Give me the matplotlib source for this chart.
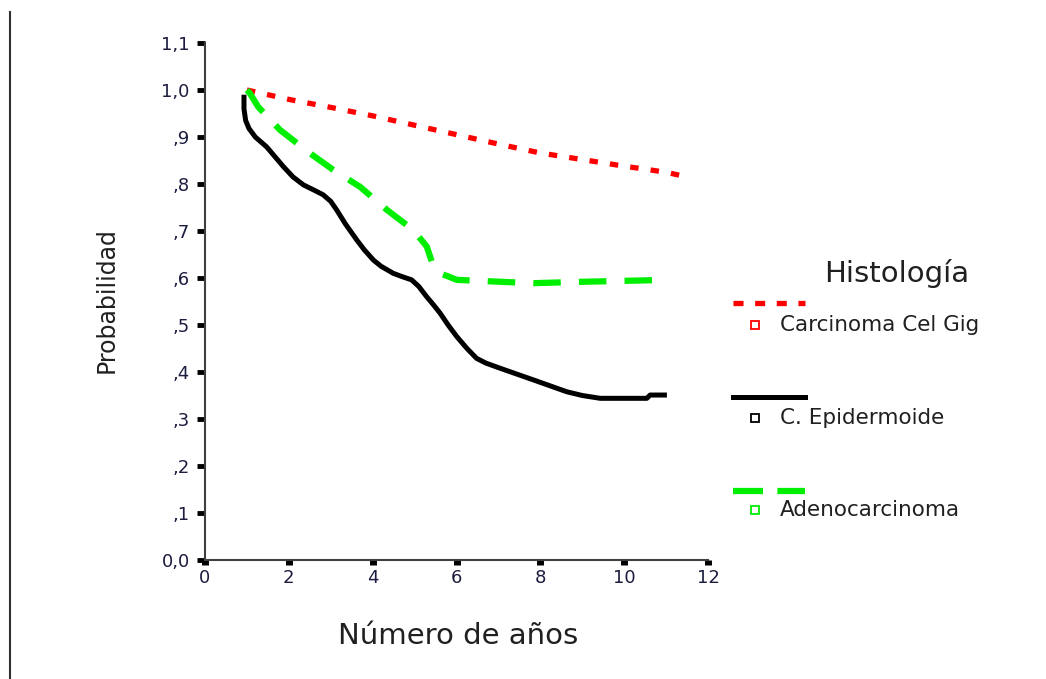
import numpy as np
import matplotlib
matplotlib.use('Agg')
import matplotlib.pyplot as plt
from matplotlib.lines import Line2D

# ---- data ----
years_cg = [1.0, 2.0, 3.0, 4.0, 5.0, 6.0, 7.0, 8.0, 9.0, 10.0, 11.0, 11.5]
surv_cg = [1.0, 0.98, 0.963, 0.945, 0.925, 0.905, 0.885, 0.866, 0.852, 0.838, 0.825, 0.815]

years_ep = [0.93, 0.93, 0.97, 1.05, 1.2, 1.47, 1.87, 2.1, 2.35, 2.6, 2.82, 3.0, 3.14, 3.35,
            3.62, 3.8, 4.02, 4.2, 4.49, 4.7, 4.93, 5.1, 5.29, 5.45, 5.61, 5.8, 6.01, 6.25,
            6.48, 6.7, 7.04, 7.84, 8.63, 9.0, 9.43, 10.54, 10.62, 11.02]
surv_ep = [0.99, 0.96, 0.935, 0.918, 0.90, 0.879, 0.837, 0.815, 0.798, 0.787, 0.777, 0.763,
           0.745, 0.715, 0.681, 0.660, 0.638, 0.625, 0.610, 0.603, 0.596, 0.582, 0.560, 0.543,
           0.525, 0.500, 0.475, 0.450, 0.429, 0.419, 0.408, 0.383, 0.358, 0.350, 0.344, 0.344,
           0.351, 0.351]

years_ad = [1.0, 1.07, 1.27, 1.79, 2.51, 3.06, 3.70, 4.34, 4.97, 5.29, 5.41, 5.61,
            6.01, 7.04, 7.84, 9.03, 11.02]
surv_ad = [1.0, 0.993, 0.964, 0.915, 0.865, 0.830, 0.794, 0.745, 0.702, 0.667, 0.635, 0.610,
           0.596, 0.592, 0.589, 0.592, 0.596]

ytick_vals = [0.0, 0.1, 0.2, 0.3, 0.4, 0.5, 0.6, 0.7, 0.8, 0.9, 1.0, 1.1]
ytick_labels = ['0,0', ',1', ',2', ',3', ',4', ',5', ',6', ',7', ',8', ',9', '1,0', '1,1']
xtick_vals = [0, 2, 4, 6, 8, 10, 12]

series_names = ['Carcinoma Cel Gig', 'C. Epidermoide', 'Adenocarcinoma']
series_colors = ['#ff0000', '#000000', '#00ee00']

W, H = 1046, 679
fig = plt.figure(figsize=(W / 100, H / 100), dpi=100)
ax = fig.add_axes([205 / W, 119 / H, 503 / W, 517 / H])
ax.set_xlim(0, 12)
ax.set_ylim(0, 1.1)
for s in ['top', 'right']:
    ax.spines[s].set_visible(False)
for s in ['left', 'bottom']:
    ax.spines[s].set_color('#404040')
    ax.spines[s].set_linewidth(1.5)

ax.set_yticks(ytick_vals)
ax.set_yticklabels(ytick_labels)
ax.set_xticks(xtick_vals)
ax.tick_params(axis='y', length=6, width=3.5, direction='out', pad=5,
               labelsize=13, labelcolor='#1c1c40', color='black')
ax.tick_params(axis='x', length=3.5, width=5, direction='out', pad=3,
               labelsize=13, labelcolor='#1c1c40', color='black')
for lbl in ax.get_xticklabels() + ax.get_yticklabels():
    lbl.set_family('DejaVu Sans')

# curves
ax.plot(years_cg, surv_cg, color=series_colors[0], lw=3.8,
        dashes=(1.6, 2.3), dash_capstyle='butt', clip_on=False)
ax.plot(years_ep, surv_ep, color=series_colors[1], lw=3.6, clip_on=False,
        solid_joinstyle='round', solid_capstyle='butt')
ax.plot(years_ad, surv_ad, color=series_colors[2], lw=4.5,
        dashes=(4.4, 2.9), dash_capstyle='butt', clip_on=False)

# axis labels
fig.text(458 / W, 1 - 636 / H, 'Número de años', ha='center', va='center',
         fontsize=21, family='DejaVu Sans', color='#202020')
fig.text(107 / W, 1 - 300 / H, 'Probabilidad', ha='center', va='center',
         rotation=90, fontsize=17, family=['Liberation Sans Narrow', 'DejaVu Sans'],
         color='#202020')

# legend (manual)
fig.text(897 / W, 1 - 273 / H, 'Histología', ha='center', va='center',
         fontsize=21, family='DejaVu Sans', color='#202020')
sample_y = [303, 397, 491]
marker_y = [325, 418, 510]
styles = [dict(lw=3.8, dashes=(1.9, 2.2), dash_capstyle='butt'),
          dict(lw=3.6),
          dict(lw=4.5, dashes=(4.8, 2.3), dash_capstyle='butt')]
for name, col, sy, my, st in zip(series_names, series_colors, sample_y, marker_y, styles):
    fig.add_artist(Line2D([733 / W, 805 / W], [1 - sy / H, 1 - sy / H], color=col, **st))
    fig.add_artist(Line2D([755 / W], [1 - my / H], marker='s', markersize=6,
                          markerfacecolor='white', markeredgecolor=col, markeredgewidth=1.3,
                          linestyle='none'))
    fig.text(780 / W, 1 - my / H, name, ha='left', va='center', fontsize=15.5,
             family='DejaVu Sans', color='#202020')

# left frame border
fig.add_artist(Line2D([10 / W, 10 / W], [0, 1 - 12 / H], color='#303030', lw=1.5))

fig.savefig('out.png', dpi=100)
